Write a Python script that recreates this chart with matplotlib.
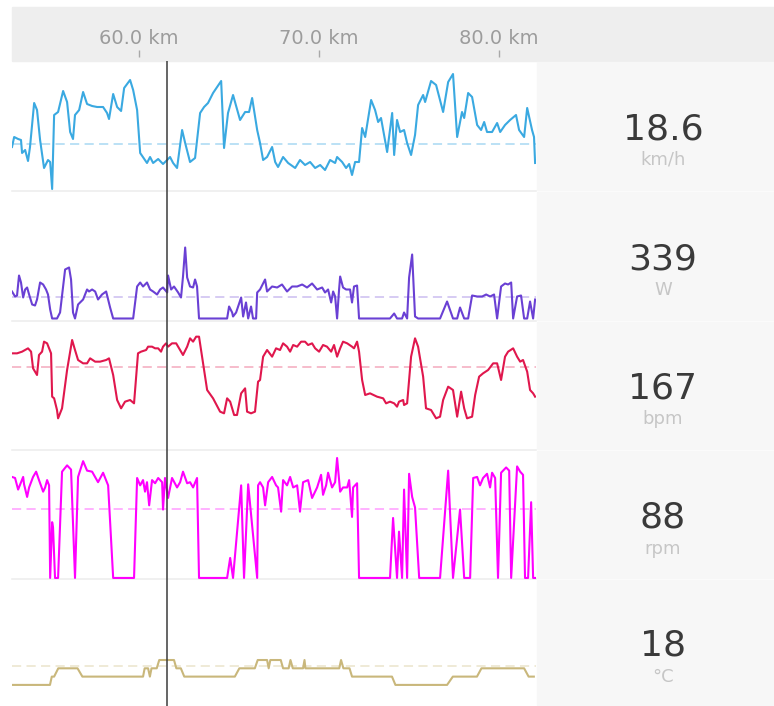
import matplotlib
matplotlib.use("Agg")
import matplotlib.pyplot as plt
from matplotlib.patches import Rectangle
from matplotlib.lines import Line2D
from matplotlib.transforms import blended_transform_factory

# ---- data (distance in km) ----
speed_km = [52.94, 53.06, 53.28, 53.44, 53.5, 53.67, 53.83, 53.94, 54.17, 54.33,
            54.5, 54.72, 54.94, 55.06, 55.17, 55.28, 55.5, 55.78, 56.0, 56.17,
            56.33, 56.44, 56.67, 56.89, 57.11, 57.39, 57.67, 58.0, 58.22, 58.33,
            58.56, 58.78, 59.0, 59.17, 59.5, 59.67, 59.89, 60.06, 60.44, 60.61,
            60.78, 61.06, 61.33, 61.56, 61.72, 61.89, 62.11, 62.39, 62.56, 62.83,
            63.11, 63.39, 63.61, 63.83, 64.11, 64.56, 64.72, 64.94, 65.22, 65.61,
            65.89, 66.11, 66.28, 66.56, 66.72, 66.89, 67.11, 67.39, 67.56, 67.72,
            68.0, 68.28, 68.67, 68.94, 69.22, 69.5, 69.78, 70.06, 70.33, 70.61,
            70.89, 71.0, 71.28, 71.5, 71.67, 71.83, 72.0, 72.22, 72.39, 72.56,
            72.89, 73.11, 73.28, 73.44, 73.61, 73.78, 74.06, 74.17, 74.33, 74.5,
            74.72, 74.89, 75.11, 75.33, 75.5, 75.78, 75.89, 76.22, 76.5, 76.89,
            77.17, 77.44, 77.67, 77.94, 78.06, 78.28, 78.5, 78.78, 79.0, 79.17,
            79.33, 79.61, 79.89, 80.06, 80.33, 80.61, 80.94, 81.11, 81.39, 81.56,
            81.83, 81.94, 82.0]
speed = [25.6, 29.6, 28.8, 28.4, 23.2, 24.4, 20.0, 25.6, 43.2, 40.4,
         28.4, 17.2, 20.4, 19.6, 8.8, 38.4, 39.6, 48.0, 43.6, 31.6,
         28.8, 38.4, 40.4, 47.6, 42.8, 42.0, 41.6, 41.6, 39.2, 36.8,
         46.8, 41.6, 40.0, 49.2, 52.4, 48.4, 40.4, 23.2, 19.2, 21.6,
         19.2, 20.8, 18.8, 20.4, 21.6, 19.2, 17.2, 32.4, 27.2, 19.6,
         21.2, 39.2, 41.6, 43.2, 47.2, 52.0, 25.2, 39.2, 46.4, 36.4,
         39.6, 39.6, 45.2, 32.4, 27.2, 20.4, 21.6, 25.6, 19.6, 17.6,
         21.6, 19.2, 17.2, 20.4, 18.4, 19.6, 17.2, 18.4, 16.4, 20.4,
         19.2, 21.6, 19.6, 17.2, 18.8, 14.4, 19.6, 19.6, 33.2, 29.6,
         44.4, 40.4, 35.6, 37.2, 30.4, 23.6, 39.2, 22.4, 36.4, 31.6,
         32.4, 27.2, 22.4, 30.4, 42.4, 46.4, 43.6, 52.0, 50.4, 39.6,
         51.6, 54.8, 29.6, 39.6, 37.2, 47.2, 45.6, 34.4, 32.4, 35.6,
         31.6, 31.6, 35.2, 31.6, 34.4, 36.4, 38.4, 32.4, 29.6, 41.2,
         32.4, 29.6, 19.2]

power_km = [52.94, 53.11, 53.22, 53.33, 53.44, 53.56, 53.67, 53.78, 53.89, 54.06,
            54.22, 54.33, 54.5, 54.67, 54.83, 54.94, 55.06, 55.17, 55.44, 55.61,
            55.89, 56.11, 56.22, 56.33, 56.44, 56.61, 56.89, 57.11, 57.22, 57.39,
            57.56, 57.72, 57.94, 58.17, 58.39, 58.56, 59.67, 59.89, 60.06, 60.22,
            60.44, 60.61, 60.78, 61.0, 61.17, 61.33, 61.56, 61.61, 61.78, 61.94,
            62.17, 62.33, 62.44, 62.56, 62.67, 62.83, 63.0, 63.11, 63.22, 63.33,
            64.89, 65.0, 65.17, 65.22, 65.39, 65.67, 65.78, 65.94, 66.06, 66.22,
            66.33, 66.5, 66.56, 66.72, 67.0, 67.11, 67.39, 67.67, 67.94, 68.22,
            68.5, 68.78, 69.06, 69.33, 69.61, 69.89, 70.17, 70.33, 70.5, 70.67,
            70.78, 70.89, 71.0, 71.11, 71.17, 71.33, 71.5, 71.72, 71.83, 71.94,
            72.11, 72.22, 73.94, 74.17, 74.33, 74.61, 74.72, 74.89, 75.0, 75.17,
            75.33, 75.5, 76.72, 77.11, 77.44, 77.67, 77.83, 78.06, 78.28, 78.5,
            78.78, 79.06, 79.28, 79.5, 79.72, 79.89, 80.11, 80.33, 80.5, 80.67,
            80.78, 81.0, 81.22, 81.39, 81.56, 81.72, 81.89, 82.0]
power = [324, 264, 276, 516, 432, 252, 348, 372, 288, 168,
         156, 228, 432, 408, 348, 288, 108, 0, 0, 72,
         588, 612, 468, 72, 0, 168, 228, 348, 324, 348,
         324, 228, 288, 324, 132, 0, 0, 384, 432, 384,
         432, 348, 324, 288, 348, 372, 312, 516, 348, 384,
         312, 252, 504, 852, 492, 384, 372, 468, 384, 0,
         0, 144, 72, 24, 72, 252, 24, 192, 0, 144,
         0, 0, 312, 348, 468, 324, 384, 372, 408, 324,
         384, 384, 408, 372, 420, 348, 372, 312, 348, 192,
         324, 264, 0, 348, 504, 372, 348, 348, 192, 384,
         396, 0, 0, 60, 0, 0, 72, 0, 492, 768,
         24, 0, 0, 204, 0, 0, 132, 0, 0, 276,
         264, 264, 288, 264, 288, 0, 384, 420, 408, 432,
         0, 264, 276, 0, 0, 204, 0, 228]

hr_km = [52.94, 53.22, 53.5, 53.83, 54.0, 54.11, 54.33, 54.44, 54.61, 54.72,
         54.89, 55.11, 55.17, 55.28, 55.44, 55.5, 55.72, 56.0, 56.28, 56.44,
         56.61, 56.89, 57.11, 57.28, 57.56, 57.83, 58.17, 58.33, 58.56, 58.78,
         59.0, 59.22, 59.5, 59.72, 59.94, 60.11, 60.39, 60.5, 60.72, 60.89,
         61.06, 61.22, 61.33, 61.5, 61.61, 61.83, 62.06, 62.28, 62.44, 62.67,
         62.83, 63.0, 63.17, 63.33, 63.5, 63.78, 64.11, 64.5, 64.72, 64.89,
         65.06, 65.28, 65.44, 65.67, 65.89, 66.0, 66.22, 66.44, 66.61, 66.72,
         66.89, 67.11, 67.39, 67.61, 67.83, 68.0, 68.22, 68.39, 68.56, 68.78,
         69.0, 69.22, 69.39, 69.61, 69.78, 70.0, 70.22, 70.44, 70.67, 70.83,
         71.0, 71.17, 71.33, 71.56, 71.83, 71.94, 72.11, 72.22, 72.39, 72.56,
         72.83, 73.22, 73.56, 73.72, 73.94, 74.17, 74.33, 74.44, 74.67, 74.72,
         74.89, 75.11, 75.33, 75.5, 75.78, 75.94, 76.22, 76.5, 76.72, 76.89,
         77.17, 77.44, 77.67, 77.89, 78.06, 78.22, 78.5, 78.67, 78.89, 79.11,
         79.39, 79.67, 79.89, 80.11, 80.33, 80.5, 80.78, 81.0, 81.17, 81.33,
         81.56, 81.72, 81.89, 82.0]
hr = [162, 162, 163, 165, 163, 153, 149, 161, 163, 169,
      168, 162, 136, 135, 128, 123, 129, 152, 170, 164,
      158, 156, 156, 159, 157, 157, 158, 159, 149, 134,
      129, 133, 134, 132, 162, 163, 164, 166, 166, 165,
      165, 163, 166, 168, 166, 168, 168, 164, 161, 166,
      171, 169, 172, 172, 160, 140, 135, 127, 126, 135,
      133, 125, 125, 138, 141, 127, 126, 127, 145, 146,
      160, 164, 160, 165, 164, 168, 166, 163, 167, 166,
      169, 169, 167, 168, 165, 163, 167, 166, 163, 167,
      160, 165, 169, 168, 166, 165, 169, 163, 146, 137,
      138, 136, 135, 132, 133, 132, 130, 133, 134, 131,
      132, 160, 171, 166, 148, 129, 128, 123, 124, 134,
      142, 140, 124, 139, 129, 123, 124, 137, 148, 150,
      152, 156, 156, 146, 160, 163, 165, 160, 157, 158,
      151, 140, 138, 136]

cad_km = [52.94, 53.11, 53.28, 53.44, 53.56, 53.61, 53.78, 53.89, 54.11, 54.28,
          54.44, 54.67, 54.78, 54.89, 55.0, 55.06, 55.17, 55.22, 55.33, 55.5,
          55.72, 56.0, 56.22, 56.44, 56.61, 56.89, 57.11, 57.39, 57.72, 58.0,
          58.28, 58.56, 59.72, 59.89, 60.06, 60.22, 60.33, 60.44, 60.56, 60.72,
          60.89, 61.06, 61.28, 61.33, 61.44, 61.61, 61.83, 62.11, 62.28, 62.44,
          62.67, 62.83, 63.0, 63.22, 63.33, 64.89, 65.06, 65.22, 65.67, 65.83,
          66.06, 66.56, 66.61, 66.72, 66.89, 67.0, 67.17, 67.39, 67.61, 67.72,
          67.89, 68.0, 68.22, 68.39, 68.56, 68.78, 68.94, 69.11, 69.39, 69.61,
          69.89, 70.11, 70.22, 70.39, 70.5, 70.72, 70.89, 71.0, 71.17, 71.33,
          71.56, 71.67, 71.83, 71.89, 72.11, 72.22, 73.94, 74.11, 74.33, 74.44,
          74.61, 74.72, 74.89, 75.0, 75.17, 75.33, 75.56, 76.72, 77.17, 77.44,
          77.83, 78.06, 78.39, 78.56, 78.78, 78.94, 79.11, 79.33, 79.5, 79.61,
          79.78, 79.94, 80.11, 80.39, 80.56, 80.67, 81.0, 81.17, 81.33, 81.44,
          81.61, 81.78, 81.89, 82.0]
cadence = [96, 95, 84, 91, 96, 89, 77, 86, 96, 101,
           93, 82, 86, 93, 88, 0, 53, 48, 0, 0,
           101, 107, 103, 0, 96, 111, 102, 101, 91, 100,
           88, 0, 0, 95, 88, 93, 82, 91, 69, 93,
           90, 95, 91, 65, 95, 76, 95, 86, 91, 101,
           90, 91, 86, 95, 0, 0, 19, 0, 88, 0,
           89, 0, 88, 91, 86, 69, 91, 96, 88, 86,
           63, 93, 88, 96, 86, 88, 63, 91, 93, 76,
           86, 98, 79, 88, 100, 86, 91, 114, 82, 86,
           86, 93, 58, 86, 90, 0, 0, 57, 0, 44,
           0, 84, 0, 99, 77, 67, 0, 0, 102, 0,
           65, 0, 0, 95, 96, 88, 95, 99, 86, 100,
           95, 0, 100, 105, 102, 0, 106, 101, 98, 0,
           0, 72, 0, 0]

temp_km = [52.94, 55.05, 55.15, 55.28, 55.51, 56.58, 56.85, 60.22, 60.31, 60.5,
           60.6, 60.69, 60.98, 61.12, 61.94, 62.07, 62.32, 62.51, 65.32, 65.57,
           66.43, 66.59, 67.11, 67.2, 67.29, 67.87, 68.0, 68.31, 68.41, 68.54,
           69.11, 69.19, 69.24, 71.12, 71.22, 71.35, 71.69, 71.83, 74.05, 74.24,
           77.11, 77.43, 78.77, 79.02, 81.39, 81.64, 81.93]
temp = [15, 15, 16, 16, 17, 17, 16, 16, 17, 17,
        16, 17, 17, 18, 18, 17, 17, 16, 16, 17,
        17, 18, 18, 17, 18, 18, 17, 17, 18, 17,
        17, 18, 17, 17, 18, 17, 17, 16, 16, 15,
        15, 16, 16, 17, 17, 16, 16]

averages = [26.8, 264, 153.8, 65.6, 17.3]
current_values = ["18.6", "339", "167", "88", "18"]
units = ["km/h", "W", "bpm", "rpm", "°C"]
tick_km = [60, 70, 80]
tick_labels = ["60.0 km", "70.0 km", "80.0 km"]
cursor_km = 61.53

series = [(speed_km, speed), (power_km, power), (hr_km, hr),
          (cad_km, cadence), (temp_km, temp)]
colors = ["#3aa9e1", "#6a40d4", "#e0174d", "#ff00ff", "#c9b77b"]
avg_colors = ["#a8d8f3", "#cbbdf0", "#f4a9bd", "#ff9cff", "#ebe4cb"]
ylims = [(8, 60), (-30, 1530), (104, 181.4), (-1, 121.6), (12.46, 27.76)]

# ---- layout in pixels ----
W, H = 774, 706
row_edges = [61, 191, 321, 450, 579, 706]
plot_left, plot_right = 12, 536
xlim = (52.94, 82.05)


def fx(px):
    return px / W


def fy(py):
    return 1 - py / H


fig = plt.figure(figsize=(W / 100, H / 100), dpi=100)
fig.patch.set_facecolor("white")

# header band
fig.add_artist(Rectangle((fx(12), fy(61)), fx(W - 12), 54 / H,
                         transform=fig.transFigure, color="#eeeeee", zorder=0))

# right side value boxes
for top, bot in zip(row_edges[:-1], row_edges[1:]):
    fig.add_artist(Rectangle((fx(537), fy(bot - 1)), fx(W - 537), (bot - top - 2) / H,
                             transform=fig.transFigure, color="#f7f7f7", zorder=0))

# header axis with distance ticks
axh = fig.add_axes([fx(plot_left), fy(57), fx(plot_right - plot_left), (57 - 7) / H])
axh.set_xlim(*xlim)
axh.patch.set_alpha(0)
for s in axh.spines.values():
    s.set_visible(False)
axh.set_yticks([])
axh.set_xticks(tick_km)
axh.tick_params(axis="x", direction="in", length=5, width=1, color="#a8a8a8",
                labelbottom=False)
trans = blended_transform_factory(axh.transData, fig.transFigure)
for t, lab in zip(tick_km, tick_labels):
    axh.text(t, fy(38), lab, transform=trans, ha="center", va="center",
             fontsize=14, color="#9c9c9c")

for i, ((xs, ys), c, ac, yl) in enumerate(zip(series, colors, avg_colors, ylims)):
    top, bot = row_edges[i], row_edges[i + 1]
    ax = fig.add_axes([fx(plot_left), fy(bot), fx(plot_right - plot_left), (bot - top) / H])
    ax.set_xlim(*xlim)
    ax.set_ylim(*yl)
    ax.axis("off")
    ax.axhline(averages[i], color=ac, lw=1.1, dashes=(6, 3.5), zorder=1)
    ax.plot(xs, ys, color=c, lw=1.5, solid_joinstyle="round", zorder=2)
    ax.axvline(cursor_km, color="#3c3c3c", lw=1.1, zorder=3)

    mid = (top + bot) / 2
    fig.text(fx(663), fy(mid + 13), current_values[i], ha="center", va="baseline",
             fontsize=26, color="#3a3a3a")
    fig.text(fx(663), fy(mid + 39), units[i], ha="center", va="baseline",
             fontsize=13, color="#c6c6c6")

# row separators in the plot area
for y in row_edges[1:-1]:
    fig.add_artist(Line2D([fx(plot_left), fx(plot_right)], [fy(y), fy(y)],
                          transform=fig.transFigure, color="#eeeeee", lw=1.2, zorder=0))

fig.savefig("out.png", dpi=100)
